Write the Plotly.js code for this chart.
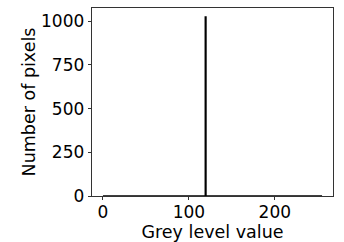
<!DOCTYPE html>
<html>
<head>
<meta charset="utf-8">
<script src="https://cdn.plot.ly/plotly-3.0.1.min.js"></script>
<style>html,body{margin:0;padding:0;background:#fff;}#chart{width:344px;height:242px;}</style>
</head>
<body>
<div id="chart"></div>
<script>
// Histogram counts for grey levels 0..255 (one count per level)
const pixelCounts = [
  0,0,0,0,0,0,0,0,0,0,0,0,0,0,0,0,
  0,0,0,0,0,0,0,0,0,0,0,0,0,0,0,0,
  0,0,0,0,0,0,0,0,0,0,0,0,0,0,0,0,
  0,0,0,0,0,0,0,0,0,0,0,0,0,0,0,0,
  0,0,0,0,0,0,0,0,0,0,0,0,0,0,0,0,
  0,0,0,0,0,0,0,0,0,0,0,0,0,0,0,0,
  0,0,0,0,0,0,0,0,0,0,0,0,0,0,0,0,
  0,0,0,0,0,0,0,0,1024,0,0,0,0,0,0,0,
  0,0,0,0,0,0,0,0,0,0,0,0,0,0,0,0,
  0,0,0,0,0,0,0,0,0,0,0,0,0,0,0,0,
  0,0,0,0,0,0,0,0,0,0,0,0,0,0,0,0,
  0,0,0,0,0,0,0,0,0,0,0,0,0,0,0,0,
  0,0,0,0,0,0,0,0,0,0,0,0,0,0,0,0,
  0,0,0,0,0,0,0,0,0,0,0,0,0,0,0,0,
  0,0,0,0,0,0,0,0,0,0,0,0,0,0,0,0,
  0,0,0,0,0,0,0,0,0,0,0,0,0,0,0,0
];
const greyLevels = pixelCounts.map((_, i) => i);
const xTickVals = [0, 100, 200];
const yTickVals = [0, 250, 500, 750, 1000];

const tickFont = {family: 'DejaVu Sans, sans-serif', size: 17, color: '#000'};
const titleFont = {family: 'DejaVu Sans, sans-serif', size: 17.5, color: '#000'};

Plotly.newPlot('chart', [{
  x: greyLevels,
  y: pixelCounts,
  type: 'scatter',
  mode: 'lines',
  line: {color: '#000', width: 1.3, shape: 'vh'},
  hoverinfo: 'skip'
}], {
  width: 344, height: 242,
  margin: {l: 92, r: 11, t: 8, b: 46},
  paper_bgcolor: '#fff', plot_bgcolor: '#fff',
  showlegend: false,
  font: tickFont,
  xaxis: {
    range: [-12.75, 267.75],
    tickvals: xTickVals,
    ticks: 'outside', ticklen: 3.5, tickwidth: 0.8, tickcolor: '#000',
    ticklabelstandoff: -3,
    showline: true, linecolor: '#000', linewidth: 0.8, mirror: true,
    showgrid: false, zeroline: false,
    tickfont: tickFont,
    title: {text: 'Grey level value', font: titleFont, standoff: 0}
  },
  yaxis: {
    range: [0, 1075],
    tickvals: yTickVals,
    ticks: 'outside', ticklen: 3.5, tickwidth: 0.8, tickcolor: '#000',
    showline: true, linecolor: '#000', linewidth: 0.8, mirror: true,
    showgrid: false, zeroline: false,
    tickfont: tickFont,
    title: {text: 'Number of pixels', font: titleFont, standoff: 0}
  }
}, {staticPlot: true, displayModeBar: false});
</script>
</body>
</html>
